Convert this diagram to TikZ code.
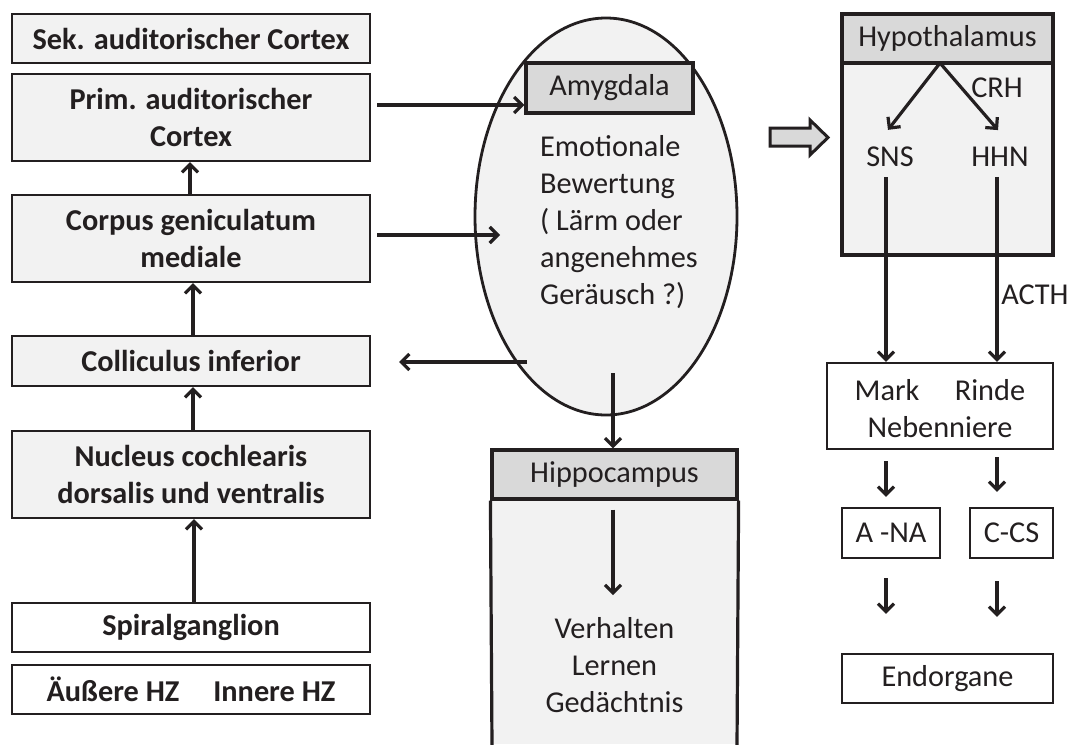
\documentclass[tikz,border=0pt]{standalone}
\usepackage{fontspec}
\setmainfont{Carlito}
\usetikzlibrary{arrows.meta,shapes.geometric}
\definecolor{lg}{HTML}{F2F2F2}
\definecolor{hg}{HTML}{D9D9D9}
\definecolor{ink}{HTML}{231F20}
\begin{document}
\begin{tikzpicture}[x=1pt,y=-1pt,
  every node/.style={text=ink},
  lbox/.style={draw=ink, line width=2.2pt, fill=lg, minimum width=358pt, inner sep=0pt, align=center, font=\fontsize{30.3}{37}\selectfont\bfseries},
  wbox/.style={lbox, fill=white},
  hdr/.style={draw=ink, line width=3.2pt, fill=hg, inner sep=0pt, font=\fontsize{30.3}{37}\selectfont},
  body/.style={draw=ink, line width=3.2pt, fill=lg, inner sep=0pt},
  rbox/.style={draw=ink, line width=2.2pt, fill=white, inner sep=0pt, align=center, font=\fontsize{30.3}{37}\selectfont},
  txt/.style={inner sep=0pt, font=\fontsize{30.3}{37}\selectfont},
  arr/.style={draw=ink, line width=3.2pt, -{Straight Barb[length=8pt,width=16pt]}}
]
\useasboundingbox[fill=white] (0,0) rectangle (1070,744);

% left column
\node[lbox, minimum height=49pt] (sek) at (191,38.5) {Sek. auditorischer Cortex};
\node[lbox, minimum height=87pt] (prim) at (191,117.5) {Prim. auditorischer\\Cortex};
\node[lbox, minimum height=87pt] (corp) at (191,238.5) {Corpus geniculatum\\mediale};
\node[lbox, minimum height=50pt] (coll) at (191,361) {Colliculus inferior};
\node[lbox, minimum height=87pt] (nucl) at (191,474.5) {Nucleus cochlearis\\dorsalis und ventralis};
\node[wbox, minimum height=49pt] (spir) at (191,627.5) {Spiralganglion};
\node[wbox, minimum height=49pt] (hz) at (191,689.5) {Äußere HZ\hspace{34pt}Innere HZ};

\draw[arr] ([xshift=-1pt]corp.north) -- ([xshift=-1pt]prim.south);
\draw[arr] ([xshift=2pt]coll.north) -- ([xshift=2pt]corp.south);
\draw[arr] ([xshift=2pt]nucl.north) -- ([xshift=2pt]coll.south);
\draw[arr] ([xshift=3pt]spir.north) -- ([xshift=3pt]nucl.south);

% ellipse
\node[ellipse, draw=ink, line width=2.8pt, fill=lg, minimum width=262pt, minimum height=397pt, inner sep=0pt] (ell) at (606,216.5) {};
\node[hdr, minimum width=167pt, minimum height=50pt] (amy) at (609.5,88) {Amygdala};
\node[txt, anchor=north west, align=left] (emo) at (540,135) {Emotionale\\Bewertung\\( Lärm oder\\angenehmes\\Geräusch ?)};

\draw[arr] ([xshift=6pt]prim.east |- 0,105) -- (amy.west |- 0,105);
\draw[arr] ([xshift=6pt]corp.east |- 0,235) -- (500,235);
\coordinate (ellout) at (527,362);
\draw[arr] (ellout) -- ([xshift=28pt]coll.east |- ellout);

% hippocampus
\node[hdr, minimum width=245pt, minimum height=49pt] (hip) at (614.5,474.5) {Hippocampus};
\fill[lg] (hip.south west) rectangle (737,744);
\draw[ink, line width=3.2pt] (hip.south west) -- (492,746);
\draw[ink, line width=3.2pt] (hip.south east) -- (737,746);
\node[txt, align=center] (verh) at (614.5,665) {Verhalten\\Lernen\\Gedächtnis};
\coordinate (ellbot) at (613,373);
\draw[arr] (ellbot) -- ([xshift=-1.5pt]hip.north);
\draw[arr] ([xshift=-1.5pt,yshift=-9pt]hip.south) -- ([xshift=-1.5pt,yshift=22pt]verh.north);

% hollow arrow
\filldraw[fill=hg, draw=ink, line width=3pt, line join=miter]
  (770,128) -- (810,128) -- (810,120) -- (828,137.5) -- (810,155) -- (810,146) -- (770,146) -- cycle;

% hypothalamus
\node[body, minimum width=211pt, minimum height=192pt] (hypb) at (947.5,159) {};
\node[hdr, minimum width=211pt, minimum height=49pt] (hyp) at (947.5,38.5) {Hypothalamus};
\node[txt] (sns) at (890,157) {SNS};
\node[txt] (hhn) at (1000,157) {HHN};
\node[txt] (crh) at (997,88) {CRH};
\coordinate (apex) at (940,63);
\draw[arr] (apex) -- ([shift={(-2pt,17pt)}]sns.north);
\draw[arr] (apex) -- ([shift={(-2pt,17pt)}]hhn.north);

\node[rbox, minimum width=226pt, minimum height=86pt] (neb) at (940,406) {};
\node[txt] (mark) at (887,390) {Mark};
\node[txt] (rinde) at (990,390) {Rinde};
\node[txt] (nebt) at (940,427) {Nebenniere};
\node[txt] (acth) at (1035,295) {ACTH};

\draw[arr] ([shift={(-4pt,-10pt)}]sns.south) -- ([shift={(-4pt,0pt)}]sns.south |- neb.north);
\draw[arr] ([shift={(-3pt,-10pt)}]hhn.south) -- ([shift={(-3pt,0pt)}]hhn.south |- neb.north);

\node[rbox, minimum width=98pt, minimum height=50pt] (ana) at (891,533) {A -NA};
\node[rbox, minimum width=83pt, minimum height=50pt] (ccs) at (1011.5,533) {C-CS};
\node[rbox, minimum width=211pt, minimum height=49pt] (endo) at (947.5,678.5) {Endorgane};

\draw[arr] ([yshift=-11pt]neb.south -| 886,0) -- ([yshift=10pt]ana.north -| 886,0);
\draw[arr] ([yshift=-7pt]neb.south -| 997,0) -- ([yshift=15pt]ccs.north -| 997,0);
\draw[arr] ([yshift=-19pt]ana.south -| 886,0) -- ([yshift=39pt]endo.north -| 886,0);
\draw[arr] ([yshift=-22pt]ccs.south -| 997,0) -- ([yshift=36pt]endo.north -| 997,0);
\end{tikzpicture}
\end{document}
